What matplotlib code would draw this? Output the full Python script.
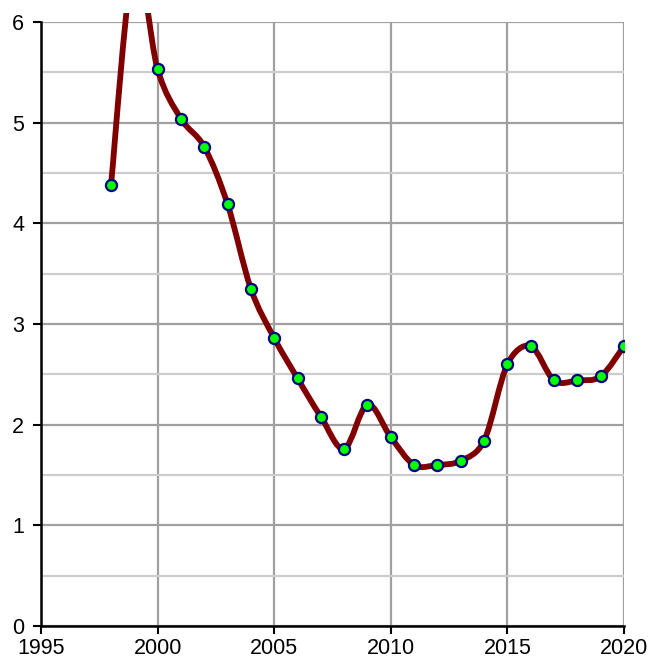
import numpy as np
import matplotlib.pyplot as plt
from matplotlib.path import Path
from matplotlib.patches import PathPatch, Rectangle
from matplotlib.ticker import MultipleLocator

plt.rcParams['font.family'] = ['Liberation Sans', 'DejaVu Sans']

# data (1999 is above the visible range)
years = list(range(1998, 2021))
values = [4.38, 6.6, 5.53, 5.04, 4.76, 4.19, 3.35, 2.86, 2.46, 2.08, 1.76,
          2.20, 1.875, 1.60, 1.60, 1.64, 1.84, 2.60, 2.78, 2.44, 2.44, 2.48, 2.78]

x_ticks = [1995, 2000, 2005, 2010, 2015, 2020]
y_ticks = [0, 1, 2, 3, 4, 5, 6]


# Excel-style smoothed line: cubic Bezier segments, control points in pixel space
def smooth_path(px):
    n = len(px)
    verts = [px[0]]
    codes = [Path.MOVETO]
    for i in range(n - 1):
        p0 = px[max(i - 1, 0)]
        p1 = px[i]
        p2 = px[i + 1]
        p3 = px[min(i + 2, n - 1)]
        d12 = np.hypot(*(p2 - p1))
        d02 = np.hypot(*(p2 - p0))
        d13 = np.hypot(*(p3 - p1))
        f = 1 / 6
        g = 1 / 6
        if d02 > 0 and d02 / 6 >= d12 / 2:
            f = d12 / 2 / d02
        if d13 > 0 and d13 / 6 >= d12 / 2:
            g = d12 / 2 / d13
        c1 = p1 + f * (p2 - p0)
        c2 = p2 - g * (p3 - p1)
        verts += [c1, c2, p2]
        codes += [Path.CURVE4] * 3
    return np.array(verts), codes


fig = plt.figure(figsize=(6.5, 6.61), dpi=100)
ax = fig.add_axes([41 / 650, 35 / 661, 583 / 650, 604 / 661])
ax.set_xlim(1995, 2020)
ax.set_ylim(0, 6)

ax.set_xticks(x_ticks)
ax.set_yticks(y_ticks)
ax.yaxis.set_minor_locator(MultipleLocator(0.5))
ax.grid(True, which='major', color='#a0a0a0', linewidth=1.6)
ax.grid(True, which='minor', axis='y', color='#cccccc', linewidth=1.6)
ax.set_axisbelow(True)
ax.tick_params(which='minor', length=0)
ax.tick_params(which='major', direction='out', length=6, width=1.5,
               labelsize=15.5, color='black')
ax.tick_params(axis='y', pad=6)
ax.tick_params(axis='x', pad=3)

for side in ['top', 'right']:
    ax.spines[side].set_visible(False)
for side in ['left', 'bottom']:
    ax.spines[side].set_linewidth(1.8)
    ax.spines[side].set_zorder(3)

# clip a little above the top of the axes, like the original
clip = Rectangle((0, 0), 1, 1.015, transform=ax.transAxes, facecolor='none',
                 edgecolor='none')
ax.add_patch(clip)

fig.canvas.draw()
px = ax.transData.transform(np.column_stack([years, values]))
verts, codes = smooth_path(px)
data_verts = ax.transData.inverted().transform(verts)
curve = PathPatch(Path(data_verts, codes), facecolor='none', edgecolor='#800000',
                  linewidth=4.2, capstyle='round', joinstyle='round', zorder=4)
ax.add_patch(curve)
curve.set_clip_path(clip)

pts, = ax.plot(years, values, linestyle='none', marker='o', markersize=8,
               markerfacecolor='#00ff00', markeredgecolor='#000080',
               markeredgewidth=1.6, zorder=5)
pts.set_clip_path(clip)

fig.savefig('out.png', dpi=100)
